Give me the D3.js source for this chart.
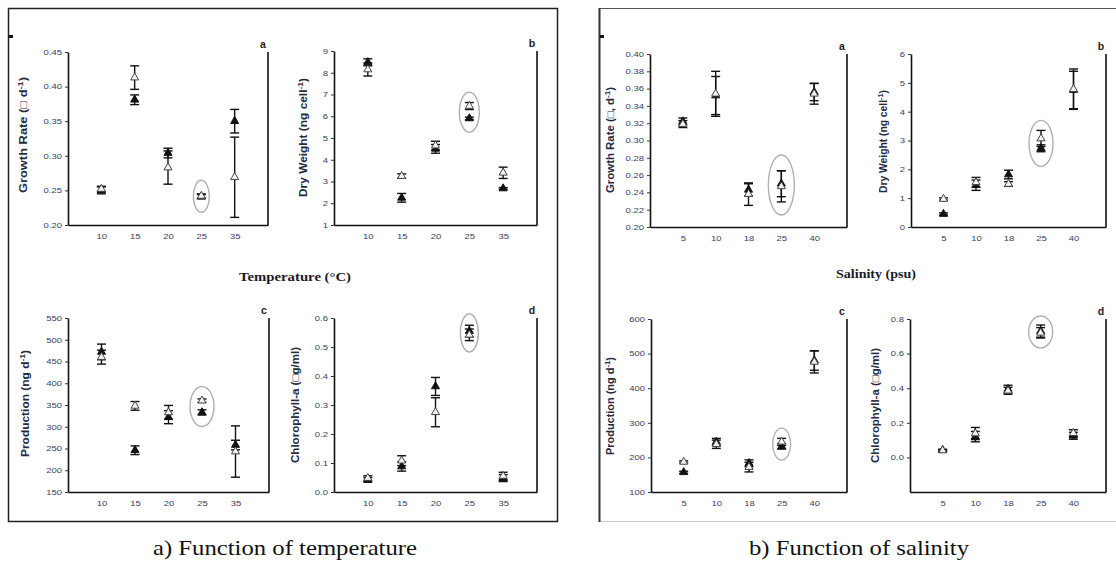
<!DOCTYPE html>
<html><head><meta charset="utf-8">
<script src="https://cdn.jsdelivr.net/npm/d3@7"></script>
<style>body{margin:0;background:#fff}svg{display:block}</style>
</head><body>
<svg id="c" width="1116" height="561"></svg>
<script>
const tempCats = ["10","15","20","25","35"];
const salCats = ["5","10","18","25","40"];
// Temperature series (filled = solid triangle, open = hollow triangle)
const tGrowthFilled = [0.250,0.381,0.304,0.241,0.350];
const tGrowthFilledErr = [0.005,0.007,0.007,0.003,0.017];
const tGrowthOpen = [0.252,0.413,0.283,0.242,0.269];
const tGrowthOpenErr = [0.004,0.017,0.024,0.003,0.058];
const tDryFilled = [8.48,2.25,4.50,5.90,2.68];
const tDryFilledErr = [0.16,0.20,0.20,0.06,0.04];
const tDryOpen = [8.15,3.25,4.65,6.47,3.40];
const tDryOpenErr = [0.30,0.10,0.20,0.16,0.26];
const tProdFilled = [472,246,322,333,258];
const tProdFilledErr = [18,10,15,6,11];
const tProdOpen = [460,348,333,360,243];
const tProdOpenErr = [16,10,16,4,59];
const tChlFilled = [0.042,0.088,0.364,0.555,0.048];
const tChlFilledErr = [0.008,0.016,0.031,0.020,0.012];
const tChlOpen = [0.048,0.108,0.275,0.542,0.055];
const tChlOpenErr = [0.008,0.017,0.050,0.020,0.013];
// Salinity series
const sGrowthFilled = [0.322,0.352,0.243,0.250,0.356];
const sGrowthFilledErr = [0.004,0.022,0.007,0.015,0.010];
const sGrowthOpen = [0.319,0.354,0.238,0.247,0.354];
const sGrowthOpenErr = [0.004,0.026,0.013,0.018,0.012];
const sDryFilled = [0.45,1.45,1.82,2.73,4.75];
const sDryFilledErr = [0.04,0.18,0.15,0.12,0.65];
const sDryOpen = [0.97,1.55,1.49,3.07,4.78];
const sDryOpenErr = [0.04,0.17,0.08,0.28,0.70];
const sProdFilled = [157,245,183,232,480];
const sProdFilledErr = [3,10,10,8,28];
const sProdOpen = [187,238,172,245,476];
const sProdOpenErr = [3,12,14,10,32];
const sChlFilled = [0.042,0.120,0.395,0.730,0.125];
const sChlFilledErr = [0.005,0.030,0.022,0.035,0.020];
const sChlOpen = [0.040,0.138,0.385,0.720,0.140];
const sChlOpenErr = [0.005,0.035,0.020,0.030,0.020];
// tick values
const tGrowthTicks = [0.20,0.25,0.30,0.35,0.40,0.45];
const tDryTicks = [1,2,3,4,5,6,7,8,9];
const tProdTicks = [150,200,250,300,350,400,450,500,550];
const tChlTicks = [0.0,0.1,0.2,0.3,0.4,0.5,0.6];
const sGrowthTicks = [0.20,0.22,0.24,0.26,0.28,0.30,0.32,0.34,0.36,0.38,0.40];
const sDryTicks = [0,1,2,3,4,5,6];
const sProdTicks = [100,200,300,400,500,600];
const sChlTicks = [0.0,0.2,0.4,0.6,0.8];

const svg = d3.select("#c");
const SANS = "Liberation Sans, Arial, sans-serif";
const SERIF = "Liberation Serif, Times New Roman, serif";

function stretch(sel, k) {
  sel.each(function() {
    const L = this.getComputedTextLength();
    d3.select(this).attr("textLength", L * k).attr("lengthAdjust", "spacingAndGlyphs");
  });
}

// frames
svg.append("rect").attr("x",8.5).attr("y",8.5).attr("width",549).attr("height",513)
  .attr("fill","none").attr("stroke","#222").attr("stroke-width",1.5);
svg.append("line").attr("x1",599).attr("x2",1116).attr("y1",8.5).attr("y2",8.5).attr("stroke","#555").attr("stroke-width",1.2);
svg.append("line").attr("x1",599).attr("x2",1116).attr("y1",521.5).attr("y2",521.5).attr("stroke","#ccc").attr("stroke-width",1.2);
svg.append("line").attr("x1",599.5).attr("x2",599.5).attr("y1",8).attr("y2",522).attr("stroke","#333").attr("stroke-width",2);
svg.append("rect").attr("x",9).attr("y",35).attr("width",4).attr("height",3).attr("fill","#111");
svg.append("rect").attr("x",600).attr("y",35).attr("width",4).attr("height",3).attr("fill","#111");

const panels = [
  {cats:tempCats, f:tGrowthFilled, fe:tGrowthFilledErr, o:tGrowthOpen, oe:tGrowthOpenErr, ticks:tGrowthTicks, dom:[0.20,0.45], fmt:".2f",
   x0:68, x1:268, yt:52, yb:225, letter:"a", lab:["Growth Rate (\u25A1 d","-1",")"], labX:27, labY:135, labLen:116, rx:8, ry:16},
  {cats:tempCats, f:tDryFilled, fe:tDryFilledErr, o:tDryOpen, oe:tDryOpenErr, ticks:tDryTicks, dom:[1,9], fmt:"d",
   x0:334, x1:537, yt:51, yb:225, letter:"b", lab:["Dry Weight (ng cell","-1",")"], labX:307, labY:137.5, labLen:119, rx:10, ry:20},
  {cats:tempCats, f:tProdFilled, fe:tProdFilledErr, o:tProdOpen, oe:tProdOpenErr, ticks:tProdTicks, dom:[150,550], fmt:"d",
   x0:68, x1:269, yt:318, yb:492, letter:"c", lab:["Production (ng d","-1",")"], labX:29, labY:403.5, labLen:107, rx:12, ry:20},
  {cats:tempCats, f:tChlFilled, fe:tChlFilledErr, o:tChlOpen, oe:tChlOpenErr, ticks:tChlTicks, dom:[0,0.6], fmt:".1f",
   x0:334, x1:537, yt:318, yb:492, letter:"d", lab:["Chlorophyll-a (\u25A1g/ml)"], labX:299, labY:405, labLen:116, rx:9, ry:19},
  {cats:salCats, f:sGrowthFilled, fe:sGrowthFilledErr, o:sGrowthOpen, oe:sGrowthOpenErr, ticks:sGrowthTicks, dom:[0.20,0.40], fmt:".2f",
   x0:650, x1:847, yt:54, yb:227, letter:"a", lab:["Growth Rate (\u25A1, d","-1",")"], labX:614, labY:140, labLen:106, rx:13, ry:30},
  {cats:salCats, f:sDryFilled, fe:sDryFilledErr, o:sDryOpen, oe:sDryOpenErr, ticks:sDryTicks, dom:[0,6], fmt:"d",
   x0:911, x1:1106, yt:54, yb:227, letter:"b", lab:["Dry Weight (ng cell","-1",")"], labX:887, labY:141.5, labLen:103, rx:12, ry:23},
  {cats:salCats, f:sProdFilled, fe:sProdFilledErr, o:sProdOpen, oe:sProdOpenErr, ticks:sProdTicks, dom:[100,600], fmt:"d",
   x0:651, x1:847, yt:319, yb:492, letter:"c", lab:["Production (ng d","-1",")"], labX:614, labY:406, labLen:98, rx:9, ry:16},
  {cats:salCats, f:sChlFilled, fe:sChlFilledErr, o:sChlOpen, oe:sChlOpenErr, ticks:sChlTicks, dom:[-0.2,0.8], fmt:".1f",
   x0:910, x1:1106, yt:319, yb:492, letter:"d", lab:["Chlorophyll-a (\u25A1g/ml)"], labX:879, labY:405.5, labLen:115, rx:12, ry:16}
];

const tri = d3.symbol().type(d3.symbolTriangle).size(28);

panels.forEach(p => {
  const g = svg.append("g");
  const x = d3.scalePoint().domain(p.cats).range([p.x0, p.x1]).padding(1);
  const y = d3.scaleLinear().domain(p.dom).range([p.yb, p.yt]);

  // y axis
  const ya = g.append("g").attr("transform",`translate(${p.x0},0)`)
    .call(d3.axisLeft(y).tickValues(p.ticks).tickFormat(d3.format(p.fmt)).tickSize(3).tickSizeOuter(0).tickPadding(3));
  ya.select(".domain").attr("stroke","#111").attr("stroke-width",1.6);
  ya.selectAll(".tick line").attr("stroke","#333");
  ya.selectAll("text").attr("font-family",SANS).attr("font-size",7.3).attr("fill","#3a4060");
  stretch(ya.selectAll("text"), 1.3);

  // x axis
  const xa = g.append("g").attr("transform",`translate(0,${p.yb})`)
    .call(d3.axisBottom(x).tickSize(0).tickSizeOuter(0).tickPadding(9));
  xa.select(".domain").attr("stroke","#111").attr("stroke-width",1.6);
  xa.selectAll("text").attr("font-family",SANS).attr("font-size",7.3).attr("fill","#3a4060");
  stretch(xa.selectAll("text"), 1.3);

  // right spine
  g.append("line").attr("x1",p.x1).attr("x2",p.x1).attr("y1",p.yt).attr("y2",p.yb)
    .attr("stroke","#111").attr("stroke-width",1.6);

  // letter
  g.append("text").attr("x",p.x1-5).attr("y",p.yt-4).attr("text-anchor","middle")
    .attr("font-family",SANS).attr("font-size",10.5).attr("font-weight","bold")
    .attr("fill","#222").text(p.letter);

  // y label
  const t = g.append("text").attr("transform",`translate(${p.labX},${p.labY}) rotate(-90)`)
    .attr("text-anchor","middle").attr("font-family",SANS).attr("font-weight","bold")
    .attr("font-size",10.5).attr("fill","#262a40")
    .attr("textLength", p.labLen).attr("lengthAdjust","spacingAndGlyphs");
  t.append("tspan").text(p.lab[0]);
  if (p.lab.length>1) {
    t.append("tspan").attr("baseline-shift","super").attr("font-size",7.5).text(p.lab[1]);
    t.append("tspan").text(p.lab[2]);
  }

  // highlight ellipse at category "25"
  const i25 = 3;
  const cy = y((p.f[i25]+p.o[i25])/2);
  g.append("ellipse").attr("cx",x(p.cats[i25])).attr("cy",cy).attr("rx",p.rx).attr("ry",p.ry)
    .attr("fill","none").attr("stroke","#b0b0b0").attr("stroke-width",1.4);

  // error bars
  const series = [{v:p.f, e:p.fe, filled:true},{v:p.o, e:p.oe, filled:false}];
  series.forEach(s => {
    const eb = g.append("g").attr("stroke","#111").attr("stroke-width",1.4);
    s.v.forEach((v,i) => {
      const cx = x(p.cats[i]);
      const lo = y(v - s.e[i]), hi = y(v + s.e[i]);
      eb.append("line").attr("x1",cx).attr("x2",cx).attr("y1",lo).attr("y2",hi);
      eb.append("line").attr("x1",cx-4.5).attr("x2",cx+4.5).attr("y1",lo).attr("y2",lo);
      eb.append("line").attr("x1",cx-4.5).attr("x2",cx+4.5).attr("y1",hi).attr("y2",hi);
    });
  });
  series.forEach(s => {
    g.append("g").selectAll("path").data(s.v).join("path")
      .attr("d", tri)
      .attr("transform",(v,i)=>`translate(${x(p.cats[i])},${y(v)})`)
      .attr("fill", s.filled ? "#111" : "#f4f4f4")
      .attr("stroke", s.filled ? "#111" : "#444")
      .attr("stroke-width", 1);
  });
});

// center axis titles
svg.append("text").attr("x",295).attr("y",280.5).attr("text-anchor","middle")
  .attr("font-family",SERIF).attr("font-weight","bold").attr("font-size",13)
  .attr("textLength",112).attr("lengthAdjust","spacingAndGlyphs")
  .attr("fill","#1a1a2a").text("Temperature (\u00B0C)");
svg.append("text").attr("x",876).attr("y",277.5).attr("text-anchor","middle")
  .attr("font-family",SERIF).attr("font-weight","bold").attr("font-size",13)
  .attr("textLength",80).attr("lengthAdjust","spacingAndGlyphs")
  .attr("fill","#1a1a2a").text("Salinity (psu)");

// captions
svg.append("text").attr("x",285).attr("y",555).attr("text-anchor","middle")
  .attr("font-family",SERIF).attr("font-size",21)
  .attr("textLength",264).attr("lengthAdjust","spacingAndGlyphs")
  .attr("fill","#111").text("a) Function of temperature");
svg.append("text").attr("x",859).attr("y",555).attr("text-anchor","middle")
  .attr("font-family",SERIF).attr("font-size",21)
  .attr("textLength",220).attr("lengthAdjust","spacingAndGlyphs")
  .attr("fill","#111").text("b) Function of salinity");
</script>
</body></html>
